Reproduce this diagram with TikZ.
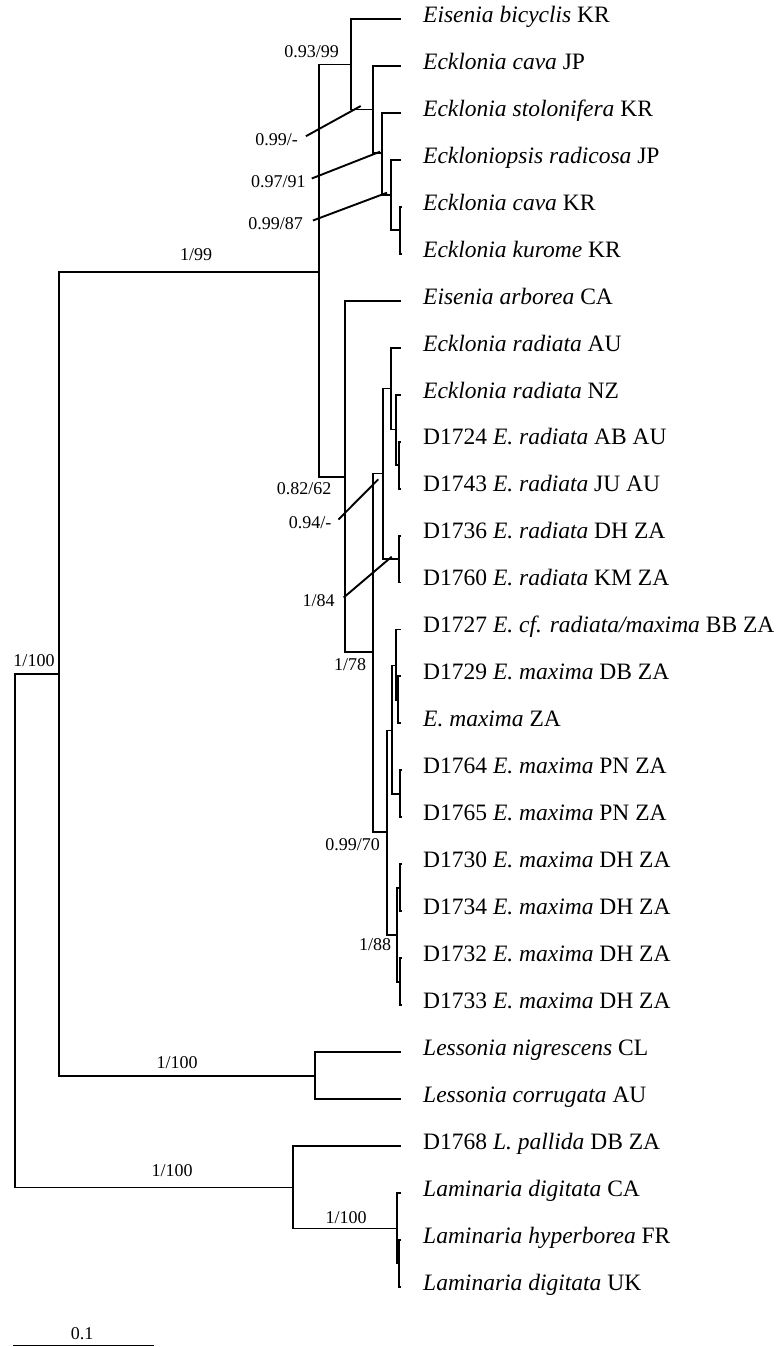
\documentclass[tikz,border=0pt]{standalone}
\usepackage{fontspec}
\setmainfont{Liberation Serif}

\begin{document}
\begin{tikzpicture}[
  x=1pt, y=-1pt,
  branch/.style={
    line width=1.9pt
  },
  leader/.style={
    line width=1.9pt
  },
  taxon/.style={
    anchor=west,
    inner sep=0pt,
    text height=0.66em,
    text depth=0pt,
    font=\fontsize{23.5}{28}\selectfont
  },
  support/.style={
    inner sep=2pt,
    text height=0.66em,
    text depth=0pt,
    font=\fontsize{18}{22}\selectfont
  }
]

\path[use as bounding box] (0,0) rectangle (776,1347);

\coordinate (root) at (15,930.5);
\coordinate (ingr) at (59.3,674);
\coordinate (ceck) at (319.3,271.7);
\coordinate (cA) at (350.7,64.5);
\coordinate (cB) at (372.7,109.5);
\coordinate (cC) at (381.7,153);
\coordinate (cD) at (390.7,195);
\coordinate (cE) at (400,230.3);
\coordinate (cF) at (345,476.7);
\coordinate (cG) at (373.3,652.3);
\coordinate (cH) at (382.7,473.5);
\coordinate (cJ) at (390.7,388.5);
\coordinate (cL) at (395.7,429.5);
\coordinate (cM) at (399,465.1);
\coordinate (cK) at (399,559);
\coordinate (cI) at (387.3,832.3);
\coordinate (cN) at (391.7,730.5);
\coordinate (cP) at (396,665.5);
\coordinate (cR) at (397.7,699.9);
\coordinate (cQ) at (400,793.8);
\coordinate (cO) at (396.7,935.2);
\coordinate (cS) at (400,887.7);
\coordinate (cT) at (400,981.7);
\coordinate (cles) at (315,1075.6);
\coordinate (clam) at (293.3,1187.5);
\coordinate (cU) at (397.3,1228.5);
\coordinate (cV) at (399.3,1263.5);

\coordinate (t0) at (401,19);
\coordinate (t1) at (401,66);
\coordinate (t2) at (401,112.9);
\coordinate (t3) at (401,159.9);
\coordinate (t4) at (402,206.8);
\coordinate (t5) at (402,253.8);
\coordinate (t6) at (401,300.8);
\coordinate (t7) at (401,347.7);
\coordinate (t8) at (401,394.7);
\coordinate (t9) at (401,441.6);
\coordinate (t10) at (401,488.6);
\coordinate (t11) at (401,535.6);
\coordinate (t12) at (401,582.5);
\coordinate (t13) at (401,629.5);
\coordinate (t14) at (401,676.4);
\coordinate (t15) at (401,723.4);
\coordinate (t16) at (401.5,770.4);
\coordinate (t17) at (401.5,817.3);
\coordinate (t18) at (401.5,864.3);
\coordinate (t19) at (401.5,911.2);
\coordinate (t20) at (401.5,958.2);
\coordinate (t21) at (401.5,1005.2);
\coordinate (t22) at (400.7,1052.1);
\coordinate (t23) at (400.7,1099.1);
\coordinate (t24) at (400.7,1146);
\coordinate (t25) at (401,1193);
\coordinate (t26) at (401,1240);
\coordinate (t27) at (401,1286.9);

\node[taxon] (l0) at (423,19) {\textit{Eisenia bicyclis} KR};
\node[taxon] (l1) at (423,66) {\textit{Ecklonia cava} JP};
\node[taxon] (l2) at (423,112.9) {\textit{Ecklonia stolonifera} KR};
\node[taxon] (l3) at (423,159.9) {\textit{Eckloniopsis radicosa} JP};
\node[taxon] (l4) at (423,206.8) {\textit{Ecklonia cava} KR};
\node[taxon] (l5) at (423,253.8) {\textit{Ecklonia kurome} KR};
\node[taxon] (l6) at (423,300.8) {\textit{Eisenia arborea} CA};
\node[taxon] (l7) at (423,347.7) {\textit{Ecklonia radiata} AU};
\node[taxon] (l8) at (423,394.7) {\textit{Ecklonia radiata} NZ};
\node[taxon] (l9) at (423,441.6) {D1724 \textit{E. radiata} AB AU};
\node[taxon] (l10) at (423,488.6) {D1743 \textit{E. radiata} JU AU};
\node[taxon] (l11) at (423,535.6) {D1736 \textit{E. radiata} DH ZA};
\node[taxon] (l12) at (423,582.5) {D1760 \textit{E. radiata} KM ZA};
\node[taxon] (l13) at (423,629.5) {D1727 \textit{E. cf. radiata/maxima} BB ZA};
\node[taxon] (l14) at (423,676.4) {D1729 \textit{E. maxima} DB ZA};
\node[taxon] (l15) at (423,723.4) {\textit{E. maxima} ZA};
\node[taxon] (l16) at (423,770.4) {D1764 \textit{E. maxima} PN ZA};
\node[taxon] (l17) at (423,817.3) {D1765 \textit{E. maxima} PN ZA};
\node[taxon] (l18) at (423,864.3) {D1730 \textit{E. maxima} DH ZA};
\node[taxon] (l19) at (423,911.2) {D1734 \textit{E. maxima} DH ZA};
\node[taxon] (l20) at (423,958.2) {D1732 \textit{E. maxima} DH ZA};
\node[taxon] (l21) at (423,1005.2) {D1733 \textit{E. maxima} DH ZA};
\node[taxon] (l22) at (423,1052.1) {\textit{Lessonia nigrescens} CL};
\node[taxon] (l23) at (423,1099.1) {\textit{Lessonia corrugata} AU};
\node[taxon] (l24) at (423,1146) {D1768 \textit{L. pallida} DB ZA};
\node[taxon] (l25) at (423,1193) {\textit{Laminaria digitata} CA};
\node[taxon] (l26) at (423,1240) {\textit{Laminaria hyperborea} FR};
\node[taxon] (l27) at (423,1286.9) {\textit{Laminaria digitata} UK};

\draw[branch] (root) |- (ingr);
\draw[branch] (root) |- (clam);
\draw[branch] (ingr) |- (ceck);
\draw[branch] (ingr) |- (cles);
\draw[branch] (ceck) |- (cA);
\draw[branch] (ceck) |- (cF);
\draw[branch] (cA) |- (t0);
\draw[branch] (cA) |- (cB);
\draw[branch] (cB) |- (t1);
\draw[branch] (cB) |- (cC);
\draw[branch] (cC) |- (t2);
\draw[branch] (cC) |- (cD);
\draw[branch] (cD) |- (t3);
\draw[branch] (cD) |- (cE);
\draw[branch] (cE) |- (t4);
\draw[branch] (cE) |- (t5);
\draw[branch] (cF) |- (t6);
\draw[branch] (cF) |- (cG);
\draw[branch] (cG) |- (cH);
\draw[branch] (cG) |- (cI);
\draw[branch] (cH) |- (cJ);
\draw[branch] (cH) |- (cK);
\draw[branch] (cJ) |- (t7);
\draw[branch] (cJ) |- (cL);
\draw[branch] (cL) |- (t8);
\draw[branch] (cL) |- (cM);
\draw[branch] (cM) |- (t9);
\draw[branch] (cM) |- (t10);
\draw[branch] (cK) |- (t11);
\draw[branch] (cK) |- (t12);
\draw[branch] (cI) |- (cN);
\draw[branch] (cI) |- (cO);
\draw[branch] (cN) |- (cP);
\draw[branch] (cN) |- (cQ);
\draw[branch] (cP) |- (t13);
\draw[branch] (cP) |- (cR);
\draw[branch] (cR) |- (t14);
\draw[branch] (cR) |- (t15);
\draw[branch] (cQ) |- (t16);
\draw[branch] (cQ) |- (t17);
\draw[branch] (cO) |- (cS);
\draw[branch] (cO) |- (cT);
\draw[branch] (cS) |- (t18);
\draw[branch] (cS) |- (t19);
\draw[branch] (cT) |- (t20);
\draw[branch] (cT) |- (t21);
\draw[branch] (cles) |- (t22);
\draw[branch] (cles) |- (t23);
\draw[branch] (clam) |- (t24);
\draw[branch] (clam) |- (cU);
\draw[branch] (cU) |- (t25);
\draw[branch] (cU) |- (cV);
\draw[branch] (cV) |- (t26);
\draw[branch] (cV) |- (t27);

\node[support] (singr) at (34,663) {1/100};
\node[support] (seck) at (196,257.3) {1/99};
\node[support] (sA) at (311.7,54) {0.93/99};
\node[support] (sB) at (276.5,141.7) {0.99/-};
\node[support] (sC) at (278.3,184) {0.97/91};
\node[support] (sD) at (275.5,226) {0.99/87};
\node[support] (sF) at (304,490.7) {0.82/62};
\node[support] (sH) at (310,525) {0.94/-};
\node[support] (sK) at (318.5,603) {1/84};
\node[support] (sG) at (350,667) {1/78};
\node[support] (sI) at (352.5,846.7) {0.99/70};
\node[support] (sO) at (375,946.7) {1/88};
\node[support] (sles) at (177,1065) {1/100};
\node[support] (slam) at (172,1173) {1/100};
\node[support] (sU) at (346,1220) {1/100};

\coordinate (kB) at (360.7,106);
\coordinate (kC) at (380,151.7);
\coordinate (kD) at (387,192.7);
\coordinate (kH) at (378.3,479.3);
\coordinate (kK) at (391.7,556.7);

\draw[leader] ([xshift=6pt]sB.north east) -- (kB);
\draw[leader] ([xshift=4pt]sC.north east) -- (kC);
\draw[leader] ([xshift=8pt]sD.north east) -- (kD);
\draw[leader] ([xshift=5pt]sH.north east) -- (kH);
\draw[leader] ([xshift=7pt]sK.north east) -- (kK);

\coordinate (bar0) at (13,1345.5);
\coordinate (bar1) at (154,1345.5);
\draw[branch] (bar0) -- (bar1);
\node[support] (sbar) at (82,1336) {0.1};

\end{tikzpicture}
\end{document}
